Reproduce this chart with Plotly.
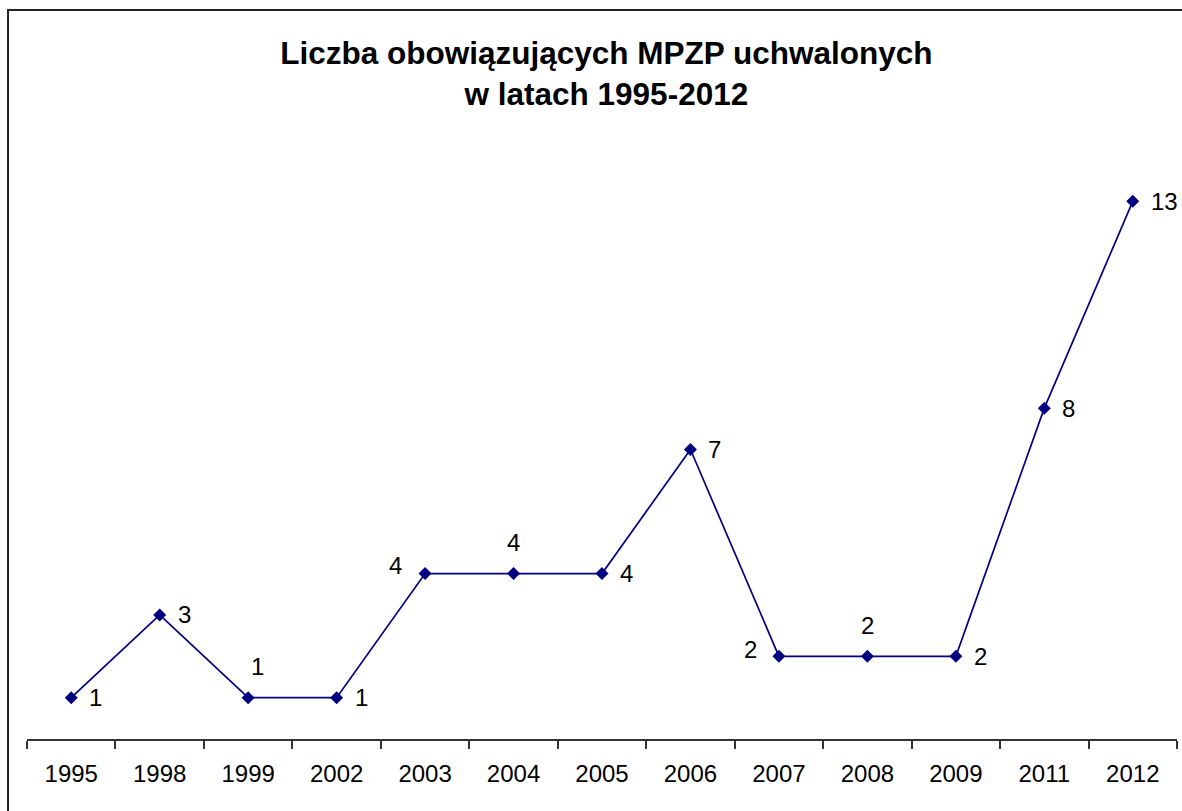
import plotly.graph_objects as go

years = ["1995", "1998", "1999", "2002", "2003", "2004", "2005",
         "2006", "2007", "2008", "2009", "2011", "2012"]
counts = [1, 3, 1, 1, 4, 4, 4, 7, 2, 2, 2, 8, 13]

title_text = "Liczba obowiązujących MPZP uchwalonych<br>w latach 1995-2012"

# label placement per point: (xanchor, xshift, yshift)
R = ("left", 16, 0)
T = ("center", 0, 31)
L = ("right", -21, 8)
placement = [R, R, ("center", 9, 31), R, L, T, R, R, ("right", -20, 7), T, R, R, R]

NAVY = "#000080"
FONT = "Liberation Sans, Arial, sans-serif"

fig = go.Figure()
fig.add_trace(go.Scatter(
    x=years, y=counts, mode="lines+markers",
    line=dict(color=NAVY, width=1.7),
    marker=dict(symbol="diamond", size=10, color=NAVY),
    hoverinfo="x+y", showlegend=False,
))

for i, (v, (xa, xs, ys)) in enumerate(zip(counts, placement)):
    fig.add_annotation(
        x=i, y=v, xref="x", yref="y", text=str(v), showarrow=False,
        xanchor=xa, yanchor="middle", xshift=xs, yshift=ys,
        font=dict(family=FONT, size=24, color="black"),
    )

# outer chart border (top and left visible in reference)
fig.add_shape(type="rect", xref="paper", yref="paper",
              x0=-0.0165, x1=1.05, y0=-0.25, y1=1.259,
              line=dict(color="#222222", width=2), fillcolor="rgba(0,0,0,0)",
              layer="above")

fig.update_layout(
    width=1182, height=811,
    margin=dict(l=27, r=5, t=160, b=72),
    paper_bgcolor="white", plot_bgcolor="white",
    title=dict(text=title_text, x=0.513, xanchor="center",
               y=1 - 64 / 811, yanchor="top",
               font=dict(family=FONT, size=31.5, color="black", weight="bold")),
    xaxis=dict(
        type="category", range=[-0.5, 12.5],
        showgrid=False, zeroline=False,
        showline=True, linecolor="#333333", linewidth=1.5,
        ticks="outside", tickson="boundaries", ticklen=8,
        tickcolor="#333333", tickwidth=1.5,
        ticklabelstandoff=12,
        tickfont=dict(family=FONT, size=24, color="black"),
    ),
    yaxis=dict(range=[0, 14], visible=False, showgrid=False, zeroline=False),
)

fig.write_html(
    "out.html",
    config={"displayModeBar": False},
    post_script="document.body.style.margin='0';document.body.style.overflow='hidden';",
)
